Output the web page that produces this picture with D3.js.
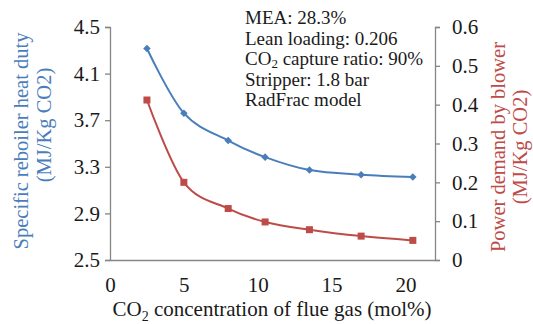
<!DOCTYPE html>
<html>
<head>
<meta charset="utf-8">
<script src="https://cdn.jsdelivr.net/npm/d3@7"></script>
<style>
  body { margin: 0; background: #fff; }
  text { font-family: "Liberation Serif", "Times New Roman", serif; }
</style>
</head>
<body>
<script>
// data
let co2 = [2.5, 5, 8, 10.5, 13.5, 17, 20.5],
    heatDuty = [4.315, 3.76, 3.525, 3.383, 3.272, 3.232, 3.212],
    blowerPower = [0.412, 0.2, 0.1325, 0.098, 0.078, 0.0615, 0.0505],
    xTicks = [0, 5, 10, 15, 20],
    leftTicks = [2.5, 2.9, 3.3, 3.7, 4.1, 4.5],
    rightTicks = [0, 0.1, 0.2, 0.3, 0.4, 0.5, 0.6],
    notes = ['MEA: 28.3%', 'Lean loading: 0.206', 'CO2 capture ratio: 90%', 'Stripper: 1.8 bar', 'RadFrac model'];

let w = 533, h = 324;
let padL = 110, padR = 435, padT = 27, padB = 260;
let blue = '#4a7ebb', red = '#be4b48', axisColor = '#868686';

let svg = d3.select('body')
  .append('svg')
  .attr('width', w)
  .attr('height', h);

let xScale = d3.scaleLinear()
  .domain([0, 22])
  .range([padL, padR]);

let yLeft = d3.scaleLinear()
  .domain([2.5, 4.5])
  .range([padB, padT]);

let yRight = d3.scaleLinear()
  .domain([0, 0.6])
  .range([padB, padT]);

// axes
let xAxis = svg.append('g')
  .attr('transform', `translate(0,${padB})`)
  .call(d3.axisBottom(xScale).tickValues(xTicks).tickSize(0).tickPadding(17));

let lAxis = svg.append('g')
  .attr('transform', `translate(${padL},0)`)
  .call(d3.axisLeft(yLeft).tickValues(leftTicks).tickSize(5).tickPadding(5).tickFormat(d3.format('.1f')));

let rAxis = svg.append('g')
  .attr('transform', `translate(${padR},0)`)
  .call(d3.axisRight(yRight).tickValues(rightTicks).tickSize(5).tickPadding(12).tickFormat(d => d === 0 ? '0' : d3.format('.1f')(d)));

[xAxis, lAxis, rAxis].forEach(a => {
  a.select('.domain').attr('stroke', axisColor).attr('stroke-width', 1.3);
  a.selectAll('.tick line').attr('stroke', axisColor).attr('stroke-width', 1.3);
  a.selectAll('.tick text')
    .attr('fill', '#1a1a1a')
    .style('font-size', '21px')
    .style('font-family', '"Liberation Serif", serif');
});
// lines
let lineL = d3.line()
  .x((d, i) => xScale(co2[i]))
  .y(d => yLeft(d))
  .curve(d3.curveCatmullRom.alpha(0));

let lineR = d3.line()
  .x((d, i) => xScale(co2[i]))
  .y(d => yRight(d))
  .curve(d3.curveCatmullRom.alpha(0));

svg.append('path')
  .datum(heatDuty)
  .attr('d', lineL)
  .attr('fill', 'none')
  .attr('stroke', blue)
  .attr('stroke-width', 2);

svg.append('path')
  .datum(blowerPower)
  .attr('d', lineR)
  .attr('fill', 'none')
  .attr('stroke', red)
  .attr('stroke-width', 2);

svg.selectAll('.diamond')
  .data(heatDuty)
  .enter()
  .append('path')
  .attr('class', 'diamond')
  .attr('d', d3.symbol(d3.symbolDiamond2, 36))
  .attr('transform', (d, i) => `translate(${xScale(co2[i])},${yLeft(d)})`)
  .attr('fill', blue);

svg.selectAll('.square')
  .data(blowerPower)
  .enter()
  .append('rect')
  .attr('class', 'square')
  .attr('x', (d, i) => xScale(co2[i]) - 3.5)
  .attr('y', d => yRight(d) - 3.5)
  .attr('width', 7)
  .attr('height', 7)
  .attr('fill', red);

// annotation
let note = svg.append('g')
  .attr('transform', 'translate(245,0)');

notes.forEach((t, i) => {
  let txt = note.append('text')
    .attr('x', 0)
    .attr('y', 24 + i * 20.5)
    .attr('fill', '#1a1a1a')
    .style('font-size', '19px');
  if (t.startsWith('CO2')) {
    txt.append('tspan').text('CO');
    txt.append('tspan').text('2').attr('dy', 3).style('font-size', '13px');
    txt.append('tspan').text(t.slice(3)).attr('dy', -3);
  } else {
    txt.text(t);
  }
});

// axis titles
let xt = svg.append('text')
  .attr('x', 272)
  .attr('y', 316)
  .attr('text-anchor', 'middle')
  .attr('fill', '#1a1a1a')
  .style('font-size', '21px');
xt.append('tspan').text('CO');
xt.append('tspan').text('2').attr('dy', 5).style('font-size', '14px');
xt.append('tspan').text(' concentration of flue gas (mol%)').attr('dy', -5);

svg.append('text')
  .attr('transform', 'translate(28,141) rotate(-90)')
  .attr('text-anchor', 'middle')
  .attr('fill', blue)
  .style('font-size', '20.5px')
  .text('Specific reboiler heat duty');

svg.append('text')
  .attr('transform', 'translate(51,125) rotate(-90)')
  .attr('text-anchor', 'middle')
  .attr('fill', blue)
  .style('font-size', '20.5px')
  .text('(MJ/Kg CO2)');

svg.append('text')
  .attr('transform', 'translate(505,147) rotate(-90)')
  .attr('text-anchor', 'middle')
  .attr('fill', red)
  .style('font-size', '20.5px')
  .text('Power demand by blower');

svg.append('text')
  .attr('transform', 'translate(527,147) rotate(-90)')
  .attr('text-anchor', 'middle')
  .attr('fill', red)
  .style('font-size', '20.5px')
  .text('(MJ/Kg CO2)');
</script>
</body>
</html>
